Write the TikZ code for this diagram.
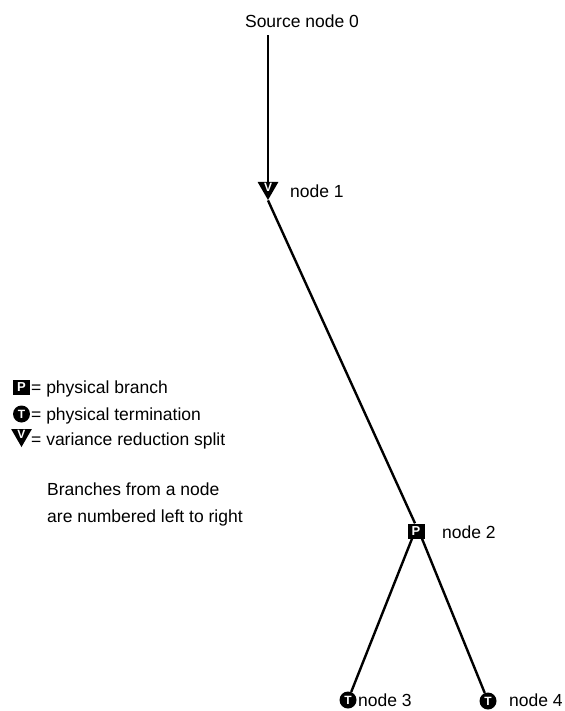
\documentclass[tikz,border=0pt]{standalone}
\usepackage{fontspec}
\setmainfont{Liberation Sans}
\usetikzlibrary{shapes.geometric}
\begin{document}
\begin{tikzpicture}[x=1pt,y=-1pt,
  lbl/.style={inner sep=0pt, font=\fontsize{17.5}{21}\selectfont},
  edge/.style={line width=2.4pt},
  psym/.style={rectangle, fill=black, text=white, inner sep=0pt,
    minimum width=17pt, minimum height=15pt,
    font=\fontsize{13}{13}\selectfont\bfseries},
  tsym/.style={circle, fill=black, text=white, inner sep=0pt,
    minimum size=17pt, font=\fontsize{12}{12}\selectfont\bfseries},
  vsym/.style={regular polygon, regular polygon sides=3, shape border rotate=180,
    fill=black, inner sep=0pt, minimum size=24pt},
  vletter/.style={text=white, inner sep=0pt, font=\fontsize{12}{12}\selectfont\bfseries}]
\useasboundingbox (0,0) rectangle (564,711);

% tree
\node[lbl, anchor=base] (src) at (302,28) {Source node 0};
\node[vsym] (n1) at (268,188) {};
\node[vletter] (n1v) at (268,187.5) {V};
\node[lbl, anchor=base west] (n1l) at (290,197) {node 1};
\node[psym] (n2) at (416,531) {P};
\node[lbl, anchor=base west] (n2l) at (442,538) {node 2};
\node[tsym] (n3) at (348,700) {T};
\node[lbl, anchor=base west] (n3l) at (358,706) {node 3};
\node[tsym] (n4) at (488,701) {T};
\node[lbl, anchor=base west] (n4l) at (509,706) {node 4};

\coordinate (top0) at ([yshift=-7pt]src.south -| n1);
\draw[edge] (top0) -- (n1.north);
\draw[edge] (n1.corner 1) -- ([xshift=-1pt]n2.north);
\draw[edge] ([xshift=-4pt]n2.south) -- (n3);
\draw[edge] ([xshift=6pt]n2.south) -- (n4);

% legend
\node[psym] (kp) at (21.5,387) {P};
\node[lbl, anchor=base west] (kpl) at (31,393) {= physical branch};
\node[tsym] (kt) at (21.5,414) {T};
\node[lbl, anchor=base west] (ktl) at (31,420) {= physical termination};
\node[vsym] (kv) at (21.5,435) {};
\node[vletter] (kvv) at (21.5,434.5) {V};
\node[lbl, anchor=base west] (kvl) at (31,445) {= variance reduction split};

\node[lbl, anchor=base west] (note1) at (47,495) {Branches from a node};
\node[lbl, anchor=base west] (note2) at (47,522) {are numbered left to right};
\end{tikzpicture}
\end{document}
